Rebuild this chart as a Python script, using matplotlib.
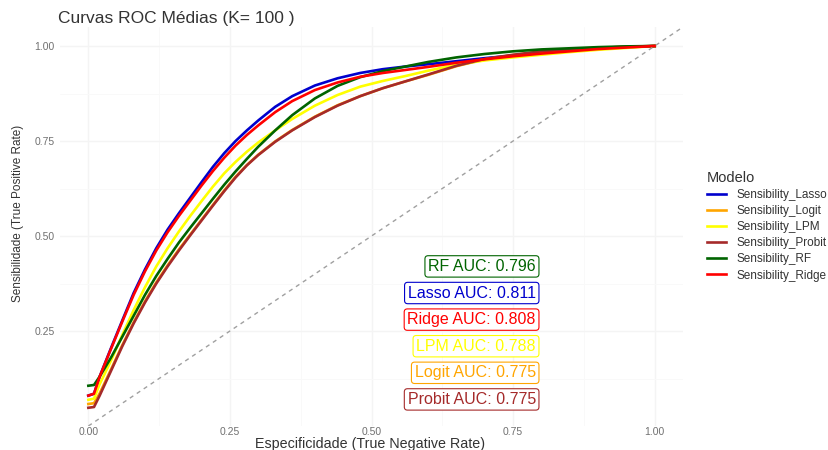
import numpy as np
import matplotlib
matplotlib.use('Agg')
import matplotlib.pyplot as plt

plt.rcParams['font.family'] = ['Liberation Sans', 'DejaVu Sans']

# mean ROC curves: false positive rate on x, sensitivity on y
fpr = [0.0, 0.01, 0.02, 0.04, 0.06, 0.08, 0.10, 0.12, 0.14, 0.16, 0.18, 0.20,
       0.22, 0.24, 0.26, 0.28, 0.30, 0.33, 0.36, 0.40, 0.44, 0.48, 0.52, 0.56,
       0.60, 0.65, 0.70, 0.75, 0.80, 0.85, 0.90, 0.95, 1.0]

tpr_lasso = [0.080, 0.085, 0.130, 0.205, 0.278, 0.350, 0.412, 0.468, 0.517, 0.560, 0.601, 0.642,
             0.682, 0.718, 0.750, 0.778, 0.804, 0.840, 0.868, 0.896, 0.915, 0.929, 0.939, 0.946,
             0.952, 0.960, 0.968, 0.975, 0.982, 0.988, 0.993, 0.997, 1.0]
tpr_ridge = [0.080, 0.085, 0.130, 0.203, 0.275, 0.345, 0.407, 0.462, 0.510, 0.553, 0.593, 0.633,
             0.671, 0.706, 0.738, 0.766, 0.791, 0.826, 0.855, 0.884, 0.904, 0.919, 0.929, 0.937,
             0.945, 0.956, 0.965, 0.973, 0.980, 0.986, 0.992, 0.996, 1.0]
tpr_rf = [0.106, 0.108, 0.130, 0.180, 0.235, 0.290, 0.345, 0.395, 0.440, 0.483, 0.522, 0.560,
          0.598, 0.635, 0.670, 0.703, 0.735, 0.778, 0.818, 0.862, 0.895, 0.918, 0.934, 0.946,
          0.958, 0.970, 0.979, 0.986, 0.991, 0.994, 0.997, 0.999, 1.0]
tpr_lpm = [0.069, 0.072, 0.110, 0.172, 0.240, 0.305, 0.365, 0.420, 0.468, 0.512, 0.553, 0.592,
           0.630, 0.665, 0.695, 0.722, 0.746, 0.778, 0.808, 0.843, 0.871, 0.893, 0.908, 0.921,
           0.935, 0.951, 0.962, 0.970, 0.977, 0.984, 0.990, 0.995, 1.0]
tpr_probit = [0.048, 0.050, 0.080, 0.145, 0.210, 0.270, 0.325, 0.375, 0.420, 0.462, 0.502, 0.541,
              0.580, 0.618, 0.654, 0.686, 0.713, 0.748, 0.778, 0.813, 0.843, 0.868, 0.889, 0.907,
              0.925, 0.948, 0.966, 0.977, 0.986, 0.991, 0.995, 0.998, 1.0]
tpr_logit = [0.058, 0.060, 0.086, 0.149, 0.213, 0.273, 0.328, 0.378, 0.423, 0.465, 0.504, 0.543,
             0.582, 0.620, 0.656, 0.687, 0.714, 0.749, 0.779, 0.814, 0.844, 0.868, 0.889, 0.907,
             0.924, 0.947, 0.965, 0.976, 0.985, 0.990, 0.995, 0.998, 1.0]

models = ['Lasso', 'Logit', 'LPM', 'Probit', 'RF', 'Ridge']
colors = {'Lasso': '#0000CD', 'Logit': '#FFA500', 'LPM': '#FFFF00',
          'Probit': '#A52A2A', 'RF': '#006400', 'Ridge': '#FF0000'}
curves = {'Lasso': tpr_lasso, 'Logit': tpr_logit, 'LPM': tpr_lpm,
          'Probit': tpr_probit, 'RF': tpr_rf, 'Ridge': tpr_ridge}

# AUC labels, top to bottom
auc_models = ['RF', 'Lasso', 'Ridge', 'LPM', 'Logit', 'Probit']
auc_values = [0.796, 0.811, 0.808, 0.788, 0.775, 0.775]
auc_y = [0.42, 0.35, 0.28, 0.21, 0.14, 0.07]

fig = plt.figure(figsize=(8.29, 4.5), dpi=100)
ax = fig.add_axes([0.0724, 0.0533, 0.7515, 0.8867])

for m in models:
    ax.plot(fpr, curves[m], color=colors[m], linewidth=1.9,
            label='Sensibility_' + m, solid_joinstyle='round')

ax.axline((0, 0), slope=1, color='#a0a0a0', linestyle=(0, (3, 3)), linewidth=1.0)

for m, v, yy in zip(auc_models, auc_values, auc_y):
    ax.text(0.79, yy, '%s AUC: %.3f' % (m, v), color=colors[m], fontsize=11.5,
            ha='right', va='center',
            bbox=dict(boxstyle='round,pad=0.2,rounding_size=0.2', fc='white',
                      ec=colors[m], lw=0.8))

ax.set_xlim(-0.05, 1.05)
ax.set_ylim(0.0, 1.05)
ax.set_xticks([0, 0.25, 0.5, 0.75, 1.0])
ax.set_xticklabels(['0.00', '0.25', '0.50', '0.75', '1.00'])
ax.set_yticks([0.25, 0.5, 0.75, 1.0])
ax.set_yticklabels(['0.25', '0.50', '0.75', '1.00'])
ax.set_xticks([0.125, 0.375, 0.625, 0.875], minor=True)
ax.set_yticks([0.125, 0.375, 0.625, 0.875], minor=True)
ax.tick_params(which='both', length=0, labelsize=7.5, labelcolor='#707070')
ax.tick_params(axis='x', pad=1)
ax.tick_params(axis='y', pad=4)
ax.grid(which='major', color='#f4f4f4', linewidth=1.0)
ax.grid(which='minor', color='#f9f9f9', linewidth=0.6)
ax.set_axisbelow(True)
for s in ax.spines.values():
    s.set_visible(False)

fig.text(0.07, 1 - 18 / 450, 'Curvas ROC Médias (K= 100 )', fontsize=12.5,
         color='#333333', va='center', ha='left')
fig.text(370 / 829, 1 - 444 / 450, 'Especificidade (True Negative Rate)',
         fontsize=10.3, color='#333333', ha='center', va='center')
fig.text(18 / 829, 1 - 213 / 450, 'Sensibilidade (True Positive Rate)',
         fontsize=8.5, color='#333333', ha='center', va='center', rotation=90)

leg = fig.legend(loc='upper left', bbox_to_anchor=(702 / 829, 1 - 166 / 450),
                 frameon=False, title='Modelo', fontsize=8.5,
                 title_fontsize=10.5, handlelength=1.6, handletextpad=0.9,
                 labelspacing=0.35, borderaxespad=0)
leg._legend_box.align = 'left'
for t in leg.get_texts():
    t.set_color('#333333')
leg.get_title().set_color('#333333')

fig.savefig('out.png', dpi=100)
